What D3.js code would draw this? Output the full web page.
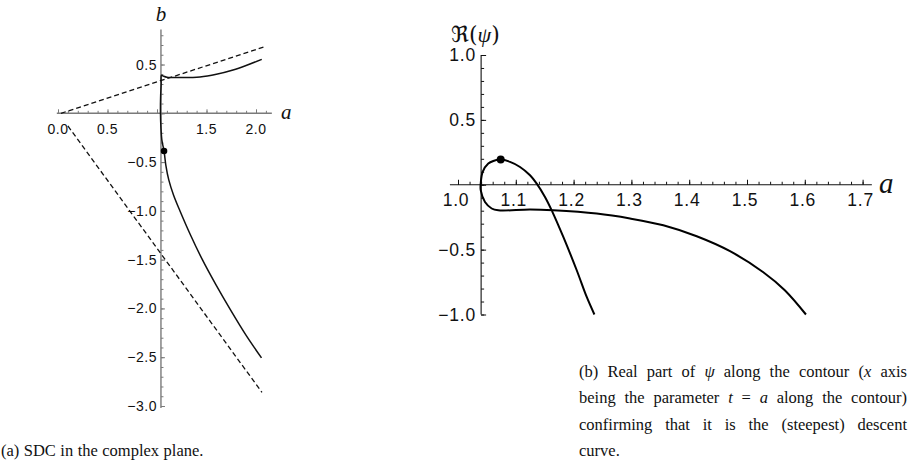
<!DOCTYPE html>
<html>
<head>
<meta charset="utf-8">
<script src="https://cdn.jsdelivr.net/npm/d3@7"></script>
<style>
  body { margin: 0; background: #fff; }
  text { fill: #111; }
</style>
</head>
<body>
<svg id="fig" width="911" height="464"></svg>
<script>
// ---------- Panel (a): steepest-descent contour in the complex plane (a, b) ----------
const sdcContour = [
  [2.058, 0.553], [1.90, 0.49], [1.768, 0.444], [1.60, 0.40], [1.434, 0.372],
  [1.25, 0.366], [1.10, 0.370], [1.06, 0.384], [1.045, 0.39],
  [1.042, 0.30], [1.036, 0.15], [1.035, 0.0], [1.040, -0.15], [1.050, -0.28],
  [1.071, -0.386], [1.089, -0.530], [1.119, -0.683], [1.1667, -0.837], [1.2323, -1.001],
  [1.3384, -1.247], [1.4596, -1.503], [1.596, -1.759], [1.7424, -2.015], [1.897, -2.271],
  [2.0556, -2.507]
];
const upperAsymptote = [[0.03, 0.0], [2.08, 0.68]];
const lowerAsymptote = [[0.10, -0.13], [2.06, -2.86]];
const saddleA = [1.071, -0.386];

const aXTicks = [0, 0.5, 1.5, 2.0];
const aXTickLabels = ["0.0", "0.5", "1.5", "2.0"];
const aYTicks = [0.5, -0.5, -1.0, -1.5, -2.0, -2.5, -3.0];
const aYTickLabels = ["0.5", "\u22120.5", "\u22121.0", "\u22121.5", "\u22122.0", "\u22122.5", "\u22123.0"];

// ---------- Panel (b): real part of psi along the contour ----------
const rePsi = [
  [1.236, -1.0], [1.2227, -0.865], [1.2054, -0.659], [1.1822, -0.402], [1.1621, -0.197],
  [1.1505, -0.094], [1.1362, 0.009], [1.1246, 0.073], [1.1073, 0.137], [1.090, 0.176],
  [1.0739, 0.194], [1.0611, 0.183], [1.0524, 0.163], [1.0427, 0.099], [1.0393, 0.009],
  [1.0393, -0.042], [1.0467, -0.133], [1.0583, -0.183], [1.0697, -0.197], [1.1246, -0.191],
  [1.1649, -0.197], [1.240, -0.222], [1.2976, -0.260], [1.3552, -0.312], [1.413, -0.397],
  [1.4706, -0.512], [1.5282, -0.674], [1.5654, -0.813], [1.602, -1.0]
];
const saddleB = [1.0739, 0.194];

const bXTicks = [1.0, 1.1, 1.2, 1.3, 1.4, 1.5, 1.6, 1.7];
const bXTickLabels = ["1.0", "1.1", "1.2", "1.3", "1.4", "1.5", "1.6", "1.7"];
const bYTicks = [1.0, 0.5, -0.5, -1.0];
const bYTickLabels = ["1.0", "0.5", "\u22120.5", "\u22121.0"];

// ---------- Captions (words between * are set in italic) ----------
const captionA = "(a) SDC in the complex plane.";
const captionB = [
  "(b) Real part of *\u03c8* along the contour (*x* axis",
  "being the parameter *t* = *a* along the contour)",
  "confirming that it is the (steepest) descent",
  "curve."
];

const svg = d3.select("#fig");
svg.append("rect").attr("width", 911).attr("height", 464).attr("fill", "#fff");

const tickFont = "'Liberation Sans', Arial, Helvetica, sans-serif";
const mathFont = "'Liberation Serif', 'Times New Roman', serif";

function drawAxes(g, o) {
  const { x, y, xOrigin, xExtent, yExtent, xMajor, xMinor, yMajor, yMinor,
          majorLen, minorLen, color, width } = o;
  const x0 = x(xOrigin), y0 = y(0);
  // x axis: ticks pointing up
  const gx = g.append("g").attr("transform", `translate(0,${y0})`);
  gx.append("g").call(d3.axisTop(x).tickValues(xMinor).tickSize(minorLen).tickFormat(""));
  gx.append("g").call(d3.axisTop(x).tickValues(xMajor).tickSize(majorLen).tickFormat(""));
  gx.selectAll(".domain").remove();
  gx.selectAll("line").attr("stroke", color).attr("stroke-width", 1);
  gx.append("line").attr("x1", x(xExtent[0])).attr("x2", x(xExtent[1]))
    .attr("stroke", color).attr("stroke-width", width);
  // y axis: ticks pointing right
  const gy = g.append("g").attr("transform", `translate(${x0},0)`);
  gy.append("g").call(d3.axisRight(y).tickValues(yMinor).tickSize(minorLen).tickFormat(""));
  gy.append("g").call(d3.axisRight(y).tickValues(yMajor).tickSize(majorLen).tickFormat(""));
  gy.selectAll(".domain").remove();
  gy.selectAll("line").attr("stroke", color).attr("stroke-width", 1);
  gy.append("line").attr("y1", y(yExtent[0])).attr("y2", y(yExtent[1]))
    .attr("stroke", color).attr("stroke-width", width);
}

function stepRange(lo, hi, step) {
  const n = Math.round((hi - lo) / step);
  return d3.range(n + 1).map(i => +(lo + i * step).toFixed(4));
}

// ================= Panel (a) =================
{
  const x = d3.scaleLinear().domain([0, 2]).range([58, 256]);
  const y = d3.scaleLinear().domain([0, -3]).range([113.3, 406]);
  const g = svg.append("g");

  drawAxes(g, {
    x, y, xOrigin: 1.04, xExtent: [-0.012, 2.16], yExtent: [0.86, -3.02],
    xMajor: [0, 0.5, 1, 1.5, 2], xMinor: stepRange(0, 2.1, 0.1),
    yMajor: stepRange(-3, 0.5, 0.5), yMinor: stepRange(-3, 0.8, 0.1),
    majorLen: 4, minorLen: 2.5, color: "#7a7a7a", width: 1.4
  });

  const line = d3.line().x(d => x(d[0])).y(d => y(d[1]));
  [upperAsymptote, lowerAsymptote].forEach(seg => {
    g.append("path").attr("d", line(seg)).attr("fill", "none")
      .attr("stroke", "#111").attr("stroke-width", 1.3).attr("stroke-dasharray", "5,3");
  });
  g.append("path").attr("d", line.curve(d3.curveCatmullRom.alpha(0.5))(sdcContour))
    .attr("fill", "none").attr("stroke", "#111").attr("stroke-width", 1.5);
  g.append("circle").attr("cx", x(saddleA[0])).attr("cy", y(saddleA[1])).attr("r", 3.3).attr("fill", "#000");

  g.selectAll(".xl").data(aXTicks).join("text")
    .attr("x", d => x(d)).attr("y", 133.5).attr("text-anchor", "middle")
    .attr("font-family", tickFont).attr("font-size", 14).attr("letter-spacing", 0.5)
    .text((d, i) => aXTickLabels[i]);
  g.selectAll(".yl").data(aYTicks).join("text")
    .attr("x", 157).attr("y", d => y(d)).attr("dy", "0.36em").attr("text-anchor", "end")
    .attr("font-family", tickFont).attr("font-size", 14).attr("letter-spacing", 0.5)
    .text((d, i) => aYTickLabels[i]);

  g.append("text").attr("x", x(1.04)).attr("y", 21).attr("text-anchor", "middle")
    .attr("font-family", mathFont).attr("font-style", "italic").attr("font-size", 21).text("b");
  g.append("text").attr("x", 281).attr("y", 119)
    .attr("font-family", mathFont).attr("font-style", "italic").attr("font-size", 21).text("a");
}

// ================= Panel (b) =================
{
  const x = d3.scaleLinear().domain([1, 1.7]).range([458, 862.6]);
  const y = d3.scaleLinear().domain([1, -1]).range([55, 314.5]);
  const g = svg.append("g");

  drawAxes(g, {
    x, y, xOrigin: 1.04, xExtent: [0.986, 1.716], yExtent: [1, -1],
    xMajor: bXTicks, xMinor: stepRange(1.0, 1.7, 0.02),
    yMajor: stepRange(-1, 1, 0.5), yMinor: stepRange(-1, 1, 0.1),
    majorLen: 5, minorLen: 3, color: "#111", width: 1.1
  });

  const line = d3.line().x(d => x(d[0])).y(d => y(d[1])).curve(d3.curveCatmullRom.alpha(0.5));
  g.append("path").attr("d", line(rePsi)).attr("fill", "none")
    .attr("stroke", "#000").attr("stroke-width", 2);
  g.append("circle").attr("cx", x(saddleB[0])).attr("cy", y(saddleB[1])).attr("r", 4).attr("fill", "#000");

  g.selectAll(".xl").data(bXTicks).join("text")
    .attr("x", d => x(d) - 2).attr("y", 206).attr("text-anchor", "middle")
    .attr("font-family", tickFont).attr("font-size", 17.5).attr("letter-spacing", 0.8)
    .text((d, i) => bXTickLabels[i]);
  g.selectAll(".yl").data(bYTicks).join("text")
    .attr("x", 476).attr("y", d => y(d)).attr("dy", "0.36em").attr("text-anchor", "end")
    .attr("font-family", tickFont).attr("font-size", 17.5).attr("letter-spacing", 0.8)
    .text((d, i) => bYTickLabels[i]);

  const lab = g.append("text").attr("x", 451).attr("y", 42)
    .attr("font-family", "'DejaVu Serif', 'DejaVu Sans', serif").attr("font-size", 22);
  lab.append("tspan").text("\u211c(");
  lab.append("tspan").attr("font-family", mathFont).attr("font-style", "italic").text("\u03c8");
  lab.append("tspan").text(")");

  g.append("text").attr("x", 879).attr("y", 193)
    .attr("font-family", mathFont).attr("font-style", "italic").attr("font-size", 29).text("a");
}

// ================= Captions =================
const capFont = "'Liberation Serif', 'Times New Roman', serif";
const capSize = 16.5;

function wordParts(w) {
  const out = [];
  w.split(/(\*[^*]+\*)/).forEach(s => {
    if (!s) return;
    if (s.startsWith("*")) out.push({ t: s.slice(1, -1), it: true });
    else out.push({ t: s, it: false });
  });
  return out;
}

function setLine(g, str, x0, x1, yb, justify) {
  const words = str.split(" ");
  const nodes = words.map(w => {
    const t = g.append("text").attr("y", yb).attr("font-family", capFont).attr("font-size", capSize);
    wordParts(w).forEach(p => t.append("tspan").attr("font-style", p.it ? "italic" : null).text(p.t));
    return t;
  });
  const widths = nodes.map(n => n.node().getComputedTextLength());
  const gap = justify && words.length > 1
    ? (x1 - x0 - d3.sum(widths)) / (words.length - 1)
    : capSize * 0.27;
  let cx = x0;
  nodes.forEach((n, i) => { n.attr("x", cx); cx += widths[i] + gap; });
}

const capG = svg.append("g");
setLine(capG, captionA, 1, 200, 456, false);
captionB.forEach((ln, i) => setLine(capG, ln, 579, 907, 377 + i * 26.4, i < captionB.length - 1));
</script>
</body>
</html>
